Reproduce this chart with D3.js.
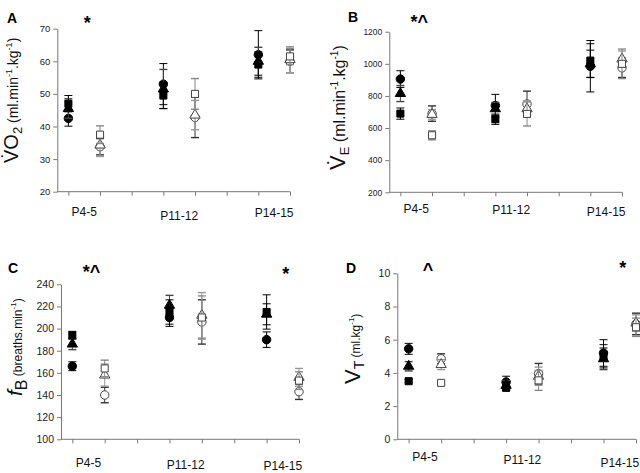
<!DOCTYPE html>
<html>
<head>
<meta charset="utf-8">
<script src="https://cdn.jsdelivr.net/npm/d3@7"></script>
<style>
  body { margin: 0; background: #fff; }
  svg { display: block; font-family: "Liberation Sans", Arial, sans-serif; }
</style>
</head>
<body>
<svg id="chart" width="640" height="473"></svg>
<script>
// age groups, each has a filled (left) and open (right) set of markers
const ages = ["P4-5", "P11-12", "P14-15"];
// series order: filled circle, filled triangle, filled square, open circle, open triangle, open square
const seriesShapes = ["circle", "triangle", "square", "circle", "triangle", "square"];
const seriesFilled = [true, true, true, false, false, false];

// A - VO2
const vo2Ticks = [20, 30, 40, 50, 60, 70];
const vo2Mean = [
  [42.5, 53, 62], [45.5, 51.5, 60], [47, 49.5, 59],
  [33.8, 42.8, 60], [34.3, 43.5, 60.5], [37.5, 50, 61.5]
];
const vo2Err = [
  [2.4, 6.3, 7.4], [3, 6, 4.3], [2.5, 4, 3.9],
  [2.5, 6.2, 3.5], [3.5, 4.5, 4], [2.7, 4.7, 2.5]
];

// B - VE
const veTicks = [200, 400, 600, 800, 1000, 1200];
const veMean = [
  [905, 740, 985], [815, 720, 1000], [690, 655, 1020],
  [690, 750, 975], [685, 720, 1030], [555, 688, 1000]
];
const veErr = [
  [52, 70, 160], [50, 40, 85], [35, 32, 105],
  [48, 80, 60], [30, 50, 50], [28, 75, 92]
];

// C - fB
const fbTicks = [100, 120, 140, 160, 180, 200, 220, 240];
const fbMean = [
  [166, 210, 190], [186, 221, 213], [194, 215, 215],
  [140, 206, 143], [158, 212, 156], [164, 210, 153]
];
const fbErr = [
  [4, 8, 7], [5, 9, 9.5], [3.5, 11, 15.5],
  [7, 20, 7], [10, 20.5, 8], [7.5, 19.5, 8]
];

// D - VT
const vtTicks = [0, 2, 4, 6, 8, 10];
const vtMean = [
  [5.45, 3.45, 5.2], [4.4, 3.25, 4.85], [3.5, 3.1, 5.0],
  [4.85, 3.95, 6.95], [4.5, 3.8, 7.0], [3.4, 3.55, 6.75]
];
const vtErr = [
  [0.33, 0.35, 0.8], [0.28, 0.3, 0.65], [0.1, 0.12, 0.7],
  [0.3, 0.62, 0.65], [0.3, 0.55, 0.5], [0.08, 0.6, 0.55]
];

const errColors = ["#000", "#444", "#000", "#333", "#999", "#888"];

const panels = [
  { letter: "A", mean: vo2Mean, err: vo2Err, ticks: vo2Ticks,
    x0: 57.3, x1: 290, yTop: 28.7, yBot: 191.7, tickFont: 9.5,
    letterPos: [7, 23], labelY: [216, 220, 217],
    marks: [{ text: "*", cat: 0, y: 29 }],
    ylab: { x: 18, y: 163, parts: [["V\u0307O", 20, 0], ["2", 13, "sub"], [" (ml.min", 14, 0], ["-1", 9, "sup"], [".kg", 14, 0], ["-1", 9, "sup"], [")", 14, 0]] } },
  { letter: "B", mean: veMean, err: veErr, ticks: veTicks,
    x0: 389.3, x1: 622, yTop: 31.7, yBot: 192.3, tickFont: 8.5,
    letterPos: [348, 22], labelY: [213, 214, 216],
    marks: [{ text: "*^", cat: 0, y: 28 }],
    ylab: { x: 345, y: 170, parts: [["V\u0307", 22, 0], ["E", 13, "sub"], [" (ml.min", 16, 0], ["-1", 10, "sup"], [".kg", 16, 0], ["-1", 10, "sup"], [")", 16, 0]] } },
  { letter: "C", mean: fbMean, err: fbErr, ticks: fbTicks,
    x0: 61, x1: 299, yTop: 284.3, yBot: 439.3, tickFont: 10.5,
    letterPos: [8, 273], labelY: [467, 469, 469.5],
    marks: [{ text: "*^", cat: 0, y: 278 }, { text: "*", cat: 2, y: 280 }],
    ylab: { x: 22, y: 396, parts: [["f", 21, "it"], ["B", 16, "sub"], [" (breaths.min", 12, 0], ["-1", 8, "sup"], [")", 12, 0]] } },
  { letter: "D", mean: vtMean, err: vtErr, ticks: vtTicks,
    x0: 397.3, x1: 636, yTop: 273.3, yBot: 439.3, tickFont: 10.5,
    letterPos: [346, 273], labelY: [461, 464, 467],
    marks: [{ text: "^", cat: 0, y: 276 }, { text: "*", cat: 2, y: 274 }],
    ylab: { x: 360, y: 384, parts: [["V", 22, 0], ["T", 14, "sub"], [" (ml.kg", 12, 0], ["-1", 8, "sup"], [")", 12, 0]] } }
];

const svg = d3.select("#chart");
svg.append("rect").attr("width", 640).attr("height", 473).attr("fill", "#fff");

const symbolType = { circle: d3.symbolCircle, triangle: d3.symbolTriangle, square: d3.symbolSquare };
const symbolSize = { circle: 56, triangle: 46, square: 50 };

panels.forEach(p => {
  const g = svg.append("g");
  const x = d3.scaleLinear().domain([-0.35, 7]).range([p.x0, p.x1]);
  const y = d3.scaleLinear().domain([p.ticks[0], p.ticks[p.ticks.length - 1]]).range([p.yBot, p.yTop]);

  // y axis
  const yAxis = g.append("g").attr("transform", `translate(${p.x0},0)`)
    .call(d3.axisLeft(y).tickValues(p.ticks).tickFormat(d3.format("d"))
      .tickSize(4).tickPadding(3).tickSizeOuter(0));
  yAxis.select(".domain").attr("stroke", "#777");
  yAxis.selectAll(".tick line").attr("stroke", "#777");
  yAxis.selectAll(".tick text").attr("fill", "#222").style("font-size", p.tickFont + "px")
    .style("font-family", "Liberation Sans, Arial, sans-serif");

  // x axis: 8 category ticks, no labels
  const xAxis = g.append("g").attr("transform", `translate(0,${p.yBot})`)
    .call(d3.axisBottom(x).tickValues(d3.range(8)).tickSize(4).tickFormat("").tickSizeOuter(0));
  xAxis.select(".domain").attr("stroke", "#777").attr("d", `M${p.x0},0H${p.x1}`);
  xAxis.selectAll(".tick line").attr("stroke", "#777");

  // age labels
  ages.forEach((a, i) => {
    g.append("text").attr("x", x(i * 3 + 0.5)).attr("y", p.labelY[i])
      .attr("text-anchor", "middle").style("font-size", "12px").attr("fill", "#111").text(a);
  });

  // series
  p.mean.forEach((vals, s) => {
    const shape = seriesShapes[s];
    const filled = seriesFilled[s];
    vals.forEach((v, i) => {
      const cx = x(i * 3 + (filled ? 0 : 1));
      const e = p.err[s][i];
      const col = errColors[s];
      g.append("line").attr("x1", cx).attr("x2", cx).attr("y1", y(v - e)).attr("y2", y(v + e))
        .attr("stroke", col).attr("stroke-width", 1);
      [v - e, v + e].forEach(t => {
        g.append("line").attr("x1", cx - 4).attr("x2", cx + 4).attr("y1", y(t)).attr("y2", y(t))
          .attr("stroke", col).attr("stroke-width", col === "#000" ? 1 : 1.4);
      });
      g.append("path")
        .attr("d", d3.symbol().type(symbolType[shape]).size(symbolSize[shape])())
        .attr("transform", `translate(${cx},${y(v)})`)
        .attr("fill", filled ? "#000" : "#fff")
        .attr("stroke", filled ? "#000" : "#444")
        .attr("stroke-width", 1);
    });
  });

  // panel letter
  g.append("text").attr("x", p.letterPos[0]).attr("y", p.letterPos[1])
    .style("font-size", "14px").style("font-weight", "bold").text(p.letter);

  // significance marks
  p.marks.forEach(m => {
    g.append("text").attr("x", x(m.cat * 3 + 0.5) + 3).attr("y", m.y).attr("text-anchor", "middle")
      .style("font-size", "18px").style("font-weight", "bold").text(m.text);
  });

  // y label, with sub/superscripts
  const lab = g.append("text")
    .attr("transform", `translate(${p.ylab.x},${p.ylab.y}) rotate(-90)`)
    .attr("fill", "#111");
  let shift = 0;
  p.ylab.parts.forEach(([t, fs, kind]) => {
    const ts = lab.append("tspan").style("font-size", fs + "px").text(t);
    if (kind === "it") ts.style("font-style", "italic");
    let target = 0;
    if (kind === "sub") target = fs * 0.3;
    if (kind === "sup") target = -fs * 0.7;
    if (target - shift !== 0) ts.attr("dy", target - shift);
    shift = target;
  });
});
</script>
</body>
</html>
